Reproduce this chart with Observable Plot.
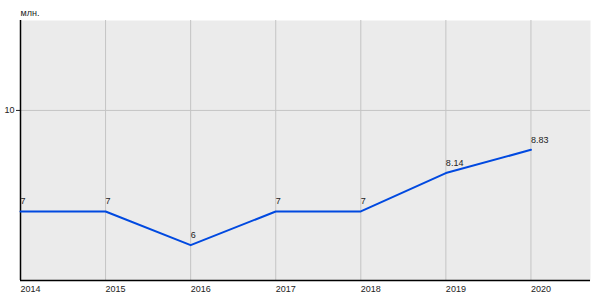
<!DOCTYPE html>
<html><head><meta charset="utf-8">
<script src="https://cdn.jsdelivr.net/npm/d3@7"></script>
<script src="https://cdn.jsdelivr.net/npm/@observablehq/plot@0.6"></script>
<style>body{margin:0;background:#fff;font-family:"Liberation Sans",Arial,sans-serif}</style>
</head><body><div id="chart"></div>
<script>
const years = [2014, 2015, 2016, 2017, 2018, 2019, 2020];
const values = [7, 7, 6, 7, 7, 8.14, 8.83];
const valueLabels = ["7", "7", "6", "7", "7", "8.14", "8.83"];
const yTicks = [10];
const unitLabel = "млн.";
const data = years.map((y, i) => ({year: y, value: values[i], label: valueLabels[i]}));
const xDomain = [2014, 2020.7];
const yDomain = [4.95, 12.67];

const chart = Plot.plot({
  width: 600, height: 300,
  marginLeft: 20, marginRight: 10, marginTop: 20, marginBottom: 20,
  style: {fontFamily: "Liberation Sans, Arial, sans-serif", fontSize: "9px", color: "#222", background: "#fff"},
  x: {domain: xDomain, label: null},
  y: {domain: yDomain, label: null},
  marks: [
    Plot.frame({fill: "#ebebeb", stroke: null}),
    Plot.gridX(years, {stroke: "#c4c4c4", strokeOpacity: 1}),
    Plot.gridY(yTicks, {stroke: "#c4c4c4", strokeOpacity: 1}),
    Plot.axisX(years, {tickSize: 0, tickPadding: 5, textAnchor: "start", tickFormat: d => String(d), label: null}),
    Plot.axisY(yTicks, {tickSize: 4, tickPadding: 2, label: null}),
    Plot.ruleX([xDomain[0]], {stroke: "#000", strokeWidth: 1.5}),
    Plot.ruleY([yDomain[0]], {stroke: "#000", strokeWidth: 1.5}),
    Plot.line(data, {x: "year", y: "value", stroke: "#0049e0", strokeWidth: 2}),
    Plot.text(data, {x: "year", y: "value", text: "label", textAnchor: "start", dy: -10, fill: "#222"}),
    Plot.text([unitLabel], {frameAnchor: "top-left", dy: -11, textAnchor: "start", fill: "#222"})
  ]
});
document.getElementById("chart").append(chart);
</script></body></html>
